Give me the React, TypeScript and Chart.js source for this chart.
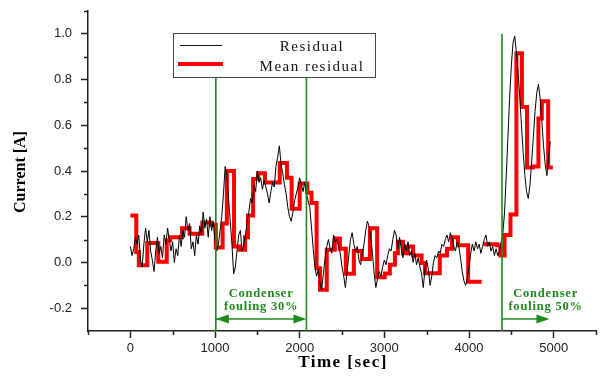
import React, { useEffect, useRef } from 'react';
import { Chart, registerables } from 'chart.js';

Chart.register(...registerables);

// ---------- data ----------
const residualStepSec = 20; // sampling interval of the residual signal
const residual = [
  0.07, 0.03, 0.06, 0.11, 0.08, 0.12, 0.01, -0.02, 0.08, 0.15,
  0.09, 0.14, 0.05, 0.01, -0.04, 0.05, 0.11, 0.04, 0.07, 0.02,
  0.12, 0.08, 0.15, 0.10, 0.05, 0.09, 0.0, 0.06, 0.03, 0.12,
  0.07, 0.14, 0.11, 0.20, 0.14, 0.17, 0.06, 0.09, 0.03, 0.12,
  0.08, 0.16, 0.12, 0.22, 0.15, 0.19, 0.11, 0.20, 0.14, 0.18,
  0.09, 0.05, 0.08, 0.14, 0.20, 0.30, 0.42, 0.38, 0.28, 0.18,
  0.08, -0.05, -0.02, 0.05, 0.12, 0.14, 0.05, 0.08, 0.12, 0.18,
  0.22, 0.28, 0.26, 0.34, 0.31, 0.40, 0.35, 0.37, 0.32, 0.36,
  0.33, 0.30, 0.26, 0.31, 0.35, 0.33, 0.42, 0.46, 0.51, 0.43,
  0.39, 0.34, 0.30, 0.24, 0.20, 0.18, 0.22, 0.27, 0.30, 0.33,
  0.37, 0.34, 0.31, 0.35, 0.30, 0.27, 0.24, 0.15, 0.06, -0.02,
  -0.06, -0.03, -0.09, -0.12, -0.05, 0.02, 0.07, 0.10, 0.06, 0.04,
  0.12, 0.09, 0.10, 0.07, 0.04, -0.02, -0.06, -0.11, -0.04, 0.03,
  0.10, 0.13, 0.08, 0.05, 0.07, 0.01, -0.01, 0.04, 0.08, 0.14,
  0.18, 0.16, 0.11, 0.04, -0.05, -0.11, -0.07, -0.04, -0.06, -0.02,
  0.01, -0.01, 0.03, 0.06, 0.05, 0.10, 0.14, 0.12, 0.06, 0.11,
  0.06, 0.02, 0.08, 0.05, 0.09, 0.03, 0.05, 0.0, 0.04, -0.01,
  0.02, -0.02, -0.05, -0.11, -0.03, 0.01, -0.03, -0.10, -0.06, 0.0,
  0.03, 0.02, 0.05, 0.04, 0.08, 0.07, 0.10, 0.12, 0.09, 0.13,
  0.11, 0.07, 0.05, 0.09, 0.07, 0.02, -0.04, -0.08, -0.10, -0.07,
  -0.02, 0.04, 0.08, 0.05, 0.09, 0.06, 0.08, 0.04, 0.07, 0.10,
  0.12, 0.07, 0.09, 0.05, 0.07, 0.03, 0.06, 0.03, 0.05, 0.09,
  0.13, 0.22, 0.38, 0.55, 0.72, 0.86, 0.96, 0.99, 0.92, 0.83,
  0.72, 0.60, 0.48, 0.38, 0.31, 0.28, 0.34, 0.44, 0.55, 0.66,
  0.74, 0.78, 0.72, 0.62, 0.51, 0.43, 0.38, 0.46, 0.53,
];

// mean residual: each time starts a level (step line); null = gap
const meanTimes = [
  0, 70, 100, 200, 330, 430, 470, 610, 700, 850,
  950, 1010, 1090, 1140, 1225, 1290, 1355, 1390, 1450, 1510,
  1590, 1765, 1850, 1905, 2000, 2090, 2140, 2200, 2240, 2320,
  2416, 2475, 2545, 2640, 2735, 2830, 2915, 3005, 3065, 3125,
  3160, 3220, 3270, 3340, 3440, 3480, 3655, 3740, 3800, 3870,
  3990, 4150, 4160, 4170, 4330, 4370, 4420, 4490, 4560, 4625,
  4685, 4755, 4820, 4860, 4935, 4990,
];
const meanValues = [
  0.205, 0.046, -0.012, 0.085, 0.003, 0.097, 0.11, 0.15, 0.126, 0.175,
  0.165, 0.065, 0.17, 0.40, 0.07, 0.055, 0.11, 0.205, 0.365, 0.39,
  0.35, 0.435, 0.37, 0.235, 0.345, 0.305, 0.26, -0.025, -0.12, 0.055,
  0.105, 0.06, -0.05, 0.05, 0.015, 0.15, -0.065, -0.048, -0.01, 0.04,
  0.09, 0.04, 0.07, 0.03, -0.003, -0.047, 0.03, 0.06, 0.11, 0.075,
  -0.085, -0.085, null, 0.08, 0.075, 0.03, 0.12, 0.21, 0.915, 0.68,
  0.415, 0.42, 0.63, 0.705, 0.415, 0.415,
];

const xMajorTicks = [0, 1000, 2000, 3000, 4000, 5000];
const xMinorTicks = [-500, 500, 1500, 2500, 3500, 4500, 5500];
const yMajorTicks = [-0.2, 0, 0.2, 0.4, 0.6, 0.8, 1.0];
const yMinorTicks = [-0.1, 0.1, 0.3, 0.5, 0.7, 0.9, 1.1];

const foulingTimes = [1010, 2080, 4390];
const arrowStart = [1010, 4390];
const arrowEnd = [2080, 4950];
const arrowBothEnds = [true, false];
const labelCenter = [1545, 4905];
const labelLine1 = ['Condenser', 'Condenser'];
const labelLine2 = ['fouling 30%', 'fouling 50%'];

// ---------- styles ----------
const AXIS_COLOR = '#222';
const GREEN = '#1e8a1e';
const RED = '#ff0000';
const SERIF = '"Liberation Serif", "Times New Roman", serif';
const SANS = '"Liberation Sans", Arial, sans-serif';

const overlay = {
  id: 'overlay',
  afterDraw(chart: any) {
    const { ctx, chartArea, scales } = chart;
    const x = scales.x;
    const y = scales.y;
    ctx.save();

    // minor ticks
    ctx.strokeStyle = AXIS_COLOR;
    ctx.lineWidth = 1.5;
    xMinorTicks.forEach((t) => {
      const px = Math.round(x.getPixelForValue(t)) + 0.5;
      ctx.beginPath();
      ctx.moveTo(px, chartArea.bottom);
      ctx.lineTo(px, chartArea.bottom + 4);
      ctx.stroke();
    });
    yMinorTicks.forEach((v) => {
      const py = Math.round(y.getPixelForValue(v)) + 0.5;
      ctx.beginPath();
      ctx.moveTo(chartArea.left - 4, py);
      ctx.lineTo(chartArea.left, py);
      ctx.stroke();
    });

    // fouling markers
    ctx.strokeStyle = GREEN;
    ctx.fillStyle = GREEN;
    ctx.lineWidth = 1.6;
    const yTop = y.getPixelForValue(1.0);
    const yBot = chartArea.bottom;
    foulingTimes.forEach((t) => {
      const px = x.getPixelForValue(t);
      ctx.beginPath();
      ctx.moveTo(px, yTop);
      ctx.lineTo(px, yBot);
      ctx.stroke();
    });

    const head = (tip: number, py: number, dir: number) => {
      ctx.beginPath();
      ctx.moveTo(tip, py);
      ctx.lineTo(tip - dir * 13, py - 4.5);
      ctx.lineTo(tip - dir * 13, py + 4.5);
      ctx.closePath();
      ctx.fill();
    };
    const arrowY = y.getPixelForValue(-0.248);
    arrowStart.forEach((s, i) => {
      const x1 = x.getPixelForValue(s);
      const x2 = x.getPixelForValue(arrowEnd[i]);
      ctx.lineWidth = 1.5;
      ctx.beginPath();
      ctx.moveTo(x1, arrowY);
      ctx.lineTo(x2 - 4, arrowY);
      ctx.stroke();
      head(x2, arrowY, 1);
      if (arrowBothEnds[i]) head(x1, arrowY, -1);
    });

    ctx.font = `bold 12.5px ${SERIF}`;
    (ctx as any).letterSpacing = '0.8px';
    ctx.textAlign = 'center';
    ctx.textBaseline = 'alphabetic';
    labelCenter.forEach((t, i) => {
      const px = x.getPixelForValue(t);
      ctx.fillText(labelLine1[i], px, y.getPixelForValue(-0.152));
      ctx.fillText(labelLine2[i], px, y.getPixelForValue(-0.209));
    });

    // legend
    const lx = 173, ly = 33, lw = 203, lh = 45;
    ctx.fillStyle = '#fff';
    ctx.fillRect(lx, ly, lw, lh);
    ctx.strokeStyle = '#444';
    ctx.lineWidth = 1;
    ctx.strokeRect(lx + 0.5, ly + 0.5, lw - 1, lh - 1);
    ctx.strokeStyle = '#111';
    ctx.lineWidth = 1;
    ctx.beginPath();
    ctx.moveTo(180, 45.5);
    ctx.lineTo(222, 45.5);
    ctx.stroke();
    ctx.strokeStyle = RED;
    ctx.lineWidth = 4;
    ctx.beginPath();
    ctx.moveTo(178, 64);
    ctx.lineTo(223, 64);
    ctx.stroke();
    ctx.fillStyle = '#111';
    ctx.font = `15px ${SERIF}`;
    (ctx as any).letterSpacing = '1.5px';
    ctx.textAlign = 'center';
    ctx.fillText('Residual', 312, 51);
    ctx.fillText('Mean residual', 312, 71);

    // axis titles
    ctx.fillStyle = '#000';
    ctx.font = `bold 17px ${SERIF}`;
    (ctx as any).letterSpacing = '1.5px';
    ctx.fillText('Time [sec]', 343, 367);
    (ctx as any).letterSpacing = '0px';
    ctx.font = `bold 16px ${SERIF}`;
    ctx.translate(25, 172);
    ctx.rotate(-Math.PI / 2);
    ctx.fillText('Current [A]', 0, 0);

    ctx.restore();
  },
};

export default function App() {
  const ref = useRef<HTMLCanvasElement>(null);

  useEffect(() => {
    const residualPoints = residual.map((v, i) => ({ x: i * residualStepSec, y: v }));
    const meanPoints = meanTimes.map((t, i) => ({ x: t, y: meanValues[i] }));

    const chart = new Chart(ref.current as HTMLCanvasElement, {
      type: 'line',
      data: {
        datasets: [
          {
            label: 'Residual',
            data: residualPoints as any,
            borderColor: '#000',
            borderWidth: 1,
            pointRadius: 0,
            tension: 0,
          },
          {
            label: 'Mean residual',
            data: meanPoints as any,
            borderColor: RED,
            borderWidth: 4,
            pointRadius: 0,
            stepped: true,
            spanGaps: false,
            borderJoinStyle: 'miter',
          },
        ],
      },
      options: {
        animation: false,
        responsive: false,
        devicePixelRatio: 1,
        layout: { padding: { top: 11, right: 12, left: 0, bottom: 0 } },
        plugins: {
          legend: { display: false },
          tooltip: { enabled: false },
        },
        events: [],
        scales: {
          x: {
            type: 'linear',
            min: -500,
            max: 5500,
            afterBuildTicks: (s: any) => {
              s.ticks = xMajorTicks.map((v) => ({ value: v }));
            },
            afterFit: (s: any) => {
              s.height = 52;
              s.paddingLeft = 0;
              s.paddingRight = 0;
              s.paddingTop = 0;
              s.paddingBottom = 0;
            },
            ticks: {
              callback: (v: any) => String(v),
              color: '#222',
              font: { family: SANS, size: 13 },
              padding: 3,
              maxRotation: 0,
              autoSkip: false,
            },
            grid: {
              display: true,
              drawOnChartArea: false,
              drawTicks: true,
              tickLength: 7,
              tickColor: AXIS_COLOR,
              tickWidth: 1.5,
            },
            border: { display: true, color: AXIS_COLOR, width: 1.5 },
          },
          y: {
            type: 'linear',
            min: -0.3,
            max: 1.1,
            afterBuildTicks: (s: any) => {
              s.ticks = yMajorTicks.map((v) => ({ value: v }));
            },
            afterFit: (s: any) => {
              s.width = 88;
              s.paddingLeft = 0;
              s.paddingRight = 0;
              s.paddingTop = 0;
              s.paddingBottom = 0;
            },
            ticks: {
              callback: (v: any) => Number(v).toFixed(1),
              color: '#222',
              font: { family: SANS, size: 13 },
              padding: 9,
              autoSkip: false,
            },
            grid: {
              display: true,
              drawOnChartArea: false,
              drawTicks: true,
              tickLength: 7,
              tickColor: AXIS_COLOR,
              tickWidth: 1.5,
            },
            border: { display: true, color: AXIS_COLOR, width: 1.5 },
          },
        },
      },
      plugins: [overlay],
    } as any);

    return () => chart.destroy();
  }, []);

  return (
    <div style={{ position: 'fixed', left: 0, top: 0, width: 608, height: 383, background: '#fff' }}>
      <canvas ref={ref} width={608} height={383} style={{ display: 'block' }} />
    </div>
  );
}
